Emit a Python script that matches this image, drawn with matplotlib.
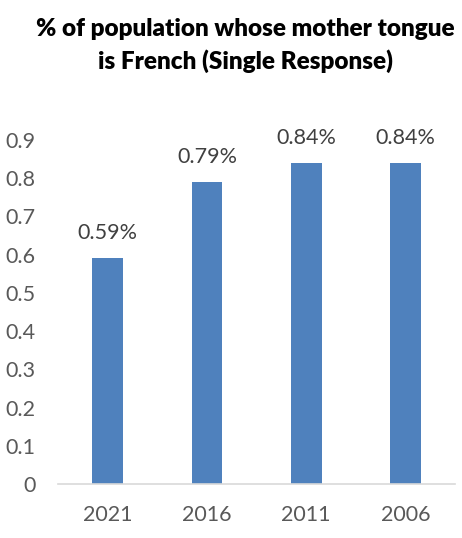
import matplotlib
matplotlib.use("Agg")
import matplotlib.pyplot as plt

years = ["2021", "2016", "2011", "2006"]
values = [0.59, 0.79, 0.84, 0.84]
value_labels = ["0.59%", "0.79%", "0.84%", "0.84%"]
yticks = [0, 0.1, 0.2, 0.3, 0.4, 0.5, 0.6, 0.7, 0.8, 0.9]
ytick_labels = ["0", "0.1", "0.2", "0.3", "0.4", "0.5", "0.6", "0.7", "0.8", "0.9"]

plt.rcParams["font.family"] = ["Lato", "DejaVu Sans"]

fig = plt.figure(figsize=(4.62, 5.38), dpi=100)
ax = fig.add_axes([0.1255, 0.1004, 0.8595, 0.6394])

x = range(len(years))
ax.bar(x, values, width=0.31, color="#4F81BD", zorder=2)

for xi, v, lab in zip(x, values, value_labels):
    ax.annotate(lab, (xi, v), xytext=(0, 18), textcoords="offset points",
                ha="center", va="center", fontsize=15.5, color="#404040",
                annotation_clip=False)

ax.set_xlim(-0.5, 3.5)
ax.set_ylim(0, 0.9)
ax.set_xticks(list(x))
ax.set_xticklabels(years)
ax.set_yticks(yticks)
ax.set_yticklabels(ytick_labels)
ax.tick_params(axis="both", length=0, labelsize=15.5, labelcolor="#595959")
ax.tick_params(axis="x", pad=15)
ax.tick_params(axis="y", pad=16)

for side in ["top", "right", "left"]:
    ax.spines[side].set_visible(False)
ax.spines["bottom"].set_color("#D9D9D9")
ax.spines["bottom"].set_linewidth(1.2)

fig.text(0.532, 0.915, "% of population whose mother tongue\nis French (Single Response)",
         ha="center", va="center", fontsize=17.5, fontweight="heavy",
         linespacing=1.45, color="black")

fig.savefig("out.png", dpi=100)
